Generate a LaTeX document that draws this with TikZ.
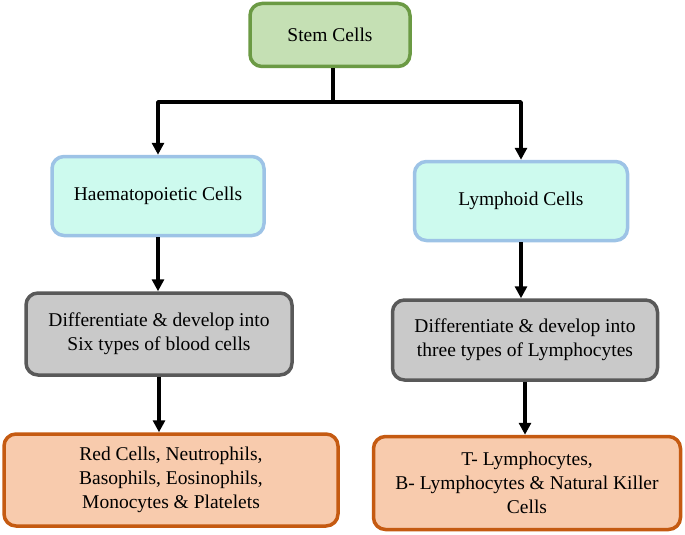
\documentclass[tikz,border=0pt]{standalone}
\usepackage{fontspec}
\setmainfont{Liberation Serif}
\usetikzlibrary{arrows.meta}
\definecolor{xanhla}{HTML}{C5E0B4}
\definecolor{vienxanhla}{HTML}{6B9A44}
\definecolor{xanhnhat}{HTML}{CDFAEE}
\definecolor{vienxanh}{HTML}{9DC3E6}
\definecolor{xam}{HTML}{C9C9C9}
\definecolor{vienxam}{HTML}{595959}
\definecolor{cam}{HTML}{F8CBAD}
\definecolor{viencam}{HTML}{C55A11}
\begin{document}
\begin{tikzpicture}[x=1pt,y=-1pt,>={Triangle[length=12pt,width=12pt]},line join=round,
	box/.style={draw,rounded corners=12pt,line width=3.5pt,align=center,inner sep=0pt,font=\fontsize{19.5}{24}\selectfont},
	arr/.style={->,line width=3.5pt}]
	\useasboundingbox (0,0) rectangle (685,535);
	%Các ô
	\node[box,fill=xanhla,draw=vienxanhla,minimum width=160pt,minimum height=63pt] (stem) at (330,35) {Stem Cells};
	\node[box,fill=xanhnhat,draw=vienxanh,minimum width=212pt,minimum height=79pt] (hae) at (158,196) {Haematopoietic Cells};
	\node[box,fill=xanhnhat,draw=vienxanh,minimum width=213pt,minimum height=79pt] (lym) at (521,201) {Lymphoid Cells};
	\node[box,fill=xam,draw=vienxam,minimum width=266pt,minimum height=82pt] (diffL) at (159,334) {Differentiate \& develop into\\Six types of blood cells};
	\node[box,fill=xam,draw=vienxam,minimum width=265pt,minimum height=80pt] (diffR) at (525,340) {Differentiate \& develop into\\three types of Lymphocytes};
	\node[box,fill=cam,draw=viencam,minimum width=334pt,minimum height=92pt] (bloodcells) at (171,480) {Red Cells, Neutrophils,\\Basophils, Eosinophils,\\Monocytes \& Platelets};
	\node[box,fill=cam,draw=viencam,minimum width=307pt,minimum height=93pt] (lymphocytes) at (527,483) {T- Lymphocytes,\\B- Lymphocytes \& Natural Killer\\Cells};
	%Mũi tên
	\coordinate (J) at (333,102);
	\draw[line width=3.5pt] (stem.south-|J) -- (J);
	\draw[arr] (J) -| (hae.north);
	\draw[arr] (J) -| (lym.north);
	\foreach \a/\b in {hae/diffL,lym/diffR,diffL/bloodcells,diffR/lymphocytes}{
		\draw[arr] (\a.south) -- (\a.south|-\b.north);}
\end{tikzpicture}
\end{document}
